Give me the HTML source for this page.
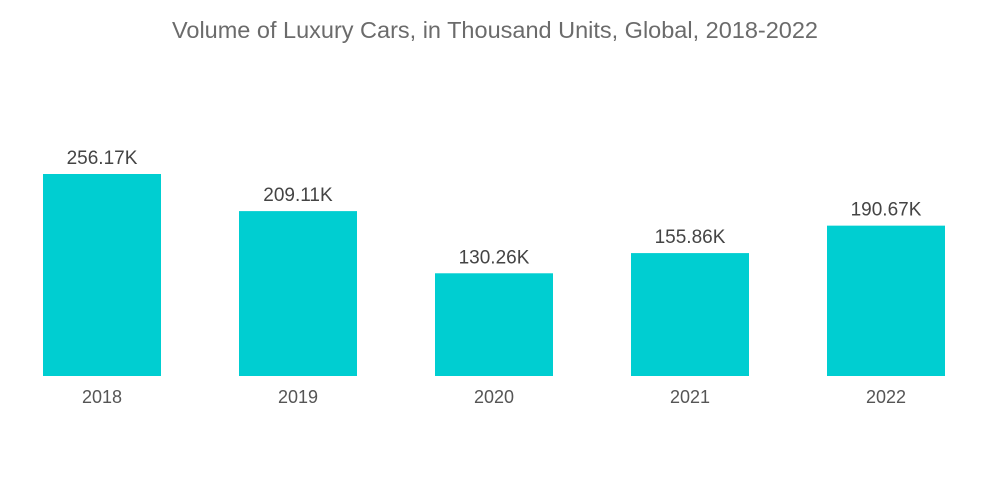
<!DOCTYPE html>
<html><head><meta charset="utf-8"><style>
html,body{margin:0;padding:0;background:#fff;}
svg{display:block;font-family:"Liberation Sans",sans-serif;}
</style></head><body>
<svg id="chart" width="1000" height="504">
<text x="495" y="38" text-anchor="middle" font-size="23" textLength="646" lengthAdjust="spacingAndGlyphs" fill="#6b6b6b">Volume of Luxury Cars, in Thousand Units, Global, 2018-2022</text>
<g id="bars"></g>
</svg>
<script>
const categories = ["2018","2019","2020","2021","2022"];
const values = [256.17, 209.11, 130.26, 155.86, 190.67];
const valueLabels = ["256.17K","209.11K","130.26K","155.86K","190.67K"];

const baseY = 376, pxPerUnit = 202/256.17, x0 = 43, step = 196, bw = 118;
const xPos = i => x0 + i*step;
const yPos = v => baseY - v*pxPerUnit;
const g = document.getElementById('bars');
const NS = "http://www.w3.org/2000/svg";
categories.forEach((c,i)=>{
  const r = document.createElementNS(NS,'rect');
  r.setAttribute('x', xPos(i));
  r.setAttribute('y', yPos(values[i]));
  r.setAttribute('width', bw);
  r.setAttribute('height', baseY - yPos(values[i]));
  r.setAttribute('fill', '#00ced1');
  
  
  g.appendChild(r);
  const t = document.createElementNS(NS,'text');
  t.setAttribute('x', xPos(i)+bw/2);
  t.setAttribute('y', yPos(values[i]) - 10);
  t.setAttribute('text-anchor','middle');
  t.setAttribute('font-size','19');
  t.setAttribute('fill','#444');
  t.textContent = valueLabels[i];
  
  
  g.appendChild(t);
  const l = document.createElementNS(NS,'text');
  l.setAttribute('x', xPos(i)+bw/2);
  l.setAttribute('y', 403);
  l.setAttribute('text-anchor','middle');
  l.setAttribute('font-size','18');
  l.setAttribute('fill','#555');
  l.textContent = c;
  
  
  g.appendChild(l);
});
</script>
</body></html>
